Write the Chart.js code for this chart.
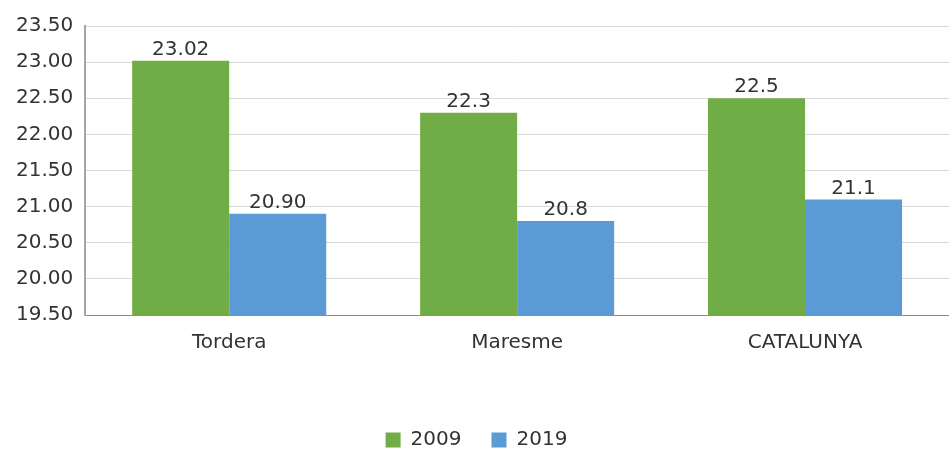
<!DOCTYPE html>
<html>
<head>
<meta charset="utf-8">
<script src="https://cdn.jsdelivr.net/npm/chart.js@4/dist/chart.umd.min.js"></script>
<style>
  html, body { margin: 0; padding: 0; background: #fff; }
  #wrap { width: 949px; height: 450px; }
</style>
</head>
<body>
<div id="wrap"><canvas id="chart" width="949" height="450"></canvas></div>
<script>
// ── Data ──────────────────────────────────────────────────────────
const categories = ['Tordera', 'Maresme', 'CATALUNYA'];
const values2009 = [23.02, 22.3, 22.5];
const values2019 = [20.90, 20.8, 21.1];
const labels2009 = ['23.02', '22.3', '22.5'];
const labels2019 = ['20.90', '20.8', '21.1'];
const yMin = 19.5, yMax = 23.5, yStep = 0.5;

const FONT = '"DejaVu Sans", sans-serif';

// ── Value labels above bars ───────────────────────────────────────
const barLabels = {
  id: 'barLabels',
  afterDatasetsDraw(chart) {
    const ctx = chart.ctx;
    ctx.save();
    ctx.font = '20px ' + FONT;
    ctx.fillStyle = '#333';
    ctx.textAlign = 'center';
    ctx.textBaseline = 'bottom';
    chart.data.datasets.forEach((ds, i) => {
      chart.getDatasetMeta(i).data.forEach((bar, j) => {
        ctx.fillText(ds.valueLabels[j], bar.x, bar.y - 1);
      });
    });
    ctx.restore();
  }
};

// ── Legend: keep wide item spacing but a short box near the bottom ─
const legendHeight = {
  id: 'legendHeight',
  beforeLayout(chart) {
    const lg = chart.legend;
    if (lg && !lg._fixed) {
      const fit = lg.fit.bind(lg);
      lg.fit = function () { fit(); this.height = 50; };
      lg._fixed = true;
    }
  }
};

new Chart(document.getElementById('chart').getContext('2d'), {
  type: 'bar',
  data: {
    labels: categories,
    datasets: [
      { label: '2009', data: values2009, valueLabels: labels2009, backgroundColor: '#70ad47' },
      { label: '2019', data: values2019, valueLabels: labels2019, backgroundColor: '#5b9bd5' }
    ]
  },
  options: {
    responsive: false,
    animation: false,
    layout: { padding: { top: 26, left: 4, right: 0, bottom: 0 } },
    datasets: { bar: { categoryPercentage: 0.674, barPercentage: 1.0 } },
    plugins: {
      legend: {
        position: 'bottom',
        labels: {
          font: { family: FONT, size: 20 },
          color: '#333',
          boxWidth: 15,
          boxHeight: 15,
          padding: 30
        }
      },
      tooltip: { enabled: false }
    },
    scales: {
      x: {
        grid: { display: false, drawTicks: false },
        border: { color: '#8c8c8c', width: 1 },
        ticks: { font: { family: FONT, size: 20 }, color: '#333', padding: 16 },
        afterFit(scale) { scale.height = 85; }
      },
      y: {
        min: yMin,
        max: yMax,
        grid: { color: '#d9d9d9', drawTicks: false },
        border: { color: '#a6a6a6', width: 2 },
        ticks: {
          stepSize: yStep,
          font: { family: FONT, size: 20 },
          color: '#333',
          padding: 12,
          callback: v => v.toFixed(2)
        }
      }
    }
  },
  plugins: [barLabels, legendHeight]
});
</script>
</body>
</html>
